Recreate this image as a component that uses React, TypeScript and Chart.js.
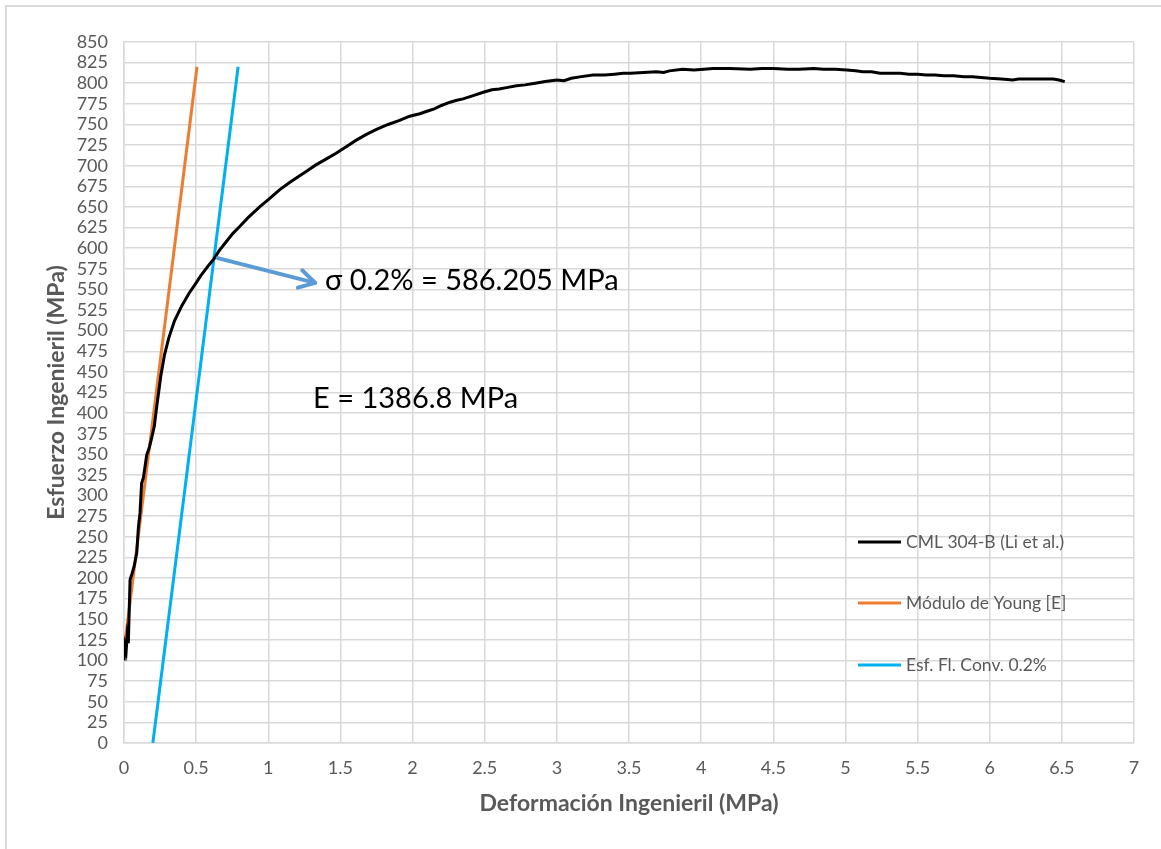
import React, { useEffect, useRef } from "react";
import { Chart, registerables } from "chart.js";

Chart.register(...registerables);

// ---- Data ----
const cmlStrain = [0, 0.008, 0.015, 0.022, 0.03, 0.036, 0.042, 0.055, 0.07, 0.088, 0.1, 0.111, 0.122, 0.135, 0.157, 0.175, 0.192, 0.21, 0.226, 0.24, 0.255, 0.28, 0.31, 0.35, 0.4, 0.45, 0.5, 0.53, 0.56, 0.59, 0.623, 0.66, 0.7, 0.755, 0.8, 0.86, 0.94, 1.0, 1.04, 1.08, 1.15, 1.21, 1.27, 1.33, 1.4, 1.47, 1.54, 1.61, 1.68, 1.75, 1.83, 1.91, 1.98, 2.05, 2.1, 2.15, 2.2, 2.26, 2.3, 2.35, 2.42, 2.49, 2.55, 2.6, 2.66, 2.72, 2.78, 2.85, 2.92, 3.0, 3.05, 3.1, 3.17, 3.25, 3.33, 3.4, 3.46, 3.51, 3.6, 3.69, 3.74, 3.78, 3.87, 3.95, 4.02, 4.08, 4.2, 4.34, 4.42, 4.5, 4.6, 4.68, 4.78, 4.85, 4.93, 5.01, 5.07, 5.12, 5.18, 5.24, 5.31, 5.38, 5.44, 5.5, 5.56, 5.62, 5.68, 5.75, 5.82, 5.88, 5.94, 6.0, 6.08, 6.16, 6.2, 6.24, 6.3, 6.37, 6.44, 6.48, 6.52];
const cmlStress = [100, 118, 112, 130, 121, 160, 198, 205, 214, 230, 262, 279, 315, 322, 349, 358, 370, 384, 407, 425, 445, 470, 491, 512, 530, 545, 558, 566, 573, 580, 587, 597, 606, 618, 626, 637, 650, 659, 665, 671, 680, 687, 694, 701, 708, 715, 723, 731, 738, 744, 750, 755, 760, 763, 766, 769, 773, 777, 779, 781, 785, 789, 792, 793, 795, 797, 798, 800, 802, 804, 803, 806, 808, 810, 810, 811, 812, 812, 813, 814, 813, 815, 817, 816, 817, 818, 818, 817, 818, 818, 817, 817, 818, 817, 817, 816, 815, 814, 814, 812, 812, 812, 811, 811, 810, 810, 809, 809, 808, 808, 807, 806, 805, 804, 805, 805, 805, 805, 805, 804, 802];

const youngStrain = [0, 0.506];
const youngStress = [112, 820];

const offsetStrain = [0.2, 0.791];
const offsetStress = [0, 820];

const seriesNames = ["CML 304-B (Li et al.)", "Módulo de Young [E]", "Esf. Fl. Conv. 0.2%"];
const seriesColors = ["#000000", "#ED7D31", "#00B0F0"];

const arrowFrom = [0.65, 588];
const arrowTo = [1.325, 558];
const labelSigma = "σ 0.2% = 586.205 MPa";
const labelSigmaPos = [1.393, 561];
const labelE = "E = 1386.8 MPa";
const labelEPos = [1.31, 417];

const xTitle = "Deformación Ingenieril (MPa)";
const yTitle = "Esfuerzo Ingenieril (MPa)";

const FONT = "Lato, 'Open Sans', sans-serif";
const GRID = "#d9d9d9";
const TEXT = "#595959";

const toPoints = (xs: number[], ys: number[]) => xs.map((x, i) => ({ x, y: ys[i] }));

const decorPlugin = {
  id: "decor",
  beforeDraw(chart: any) {
    const ctx = chart.ctx;
    ctx.save();
    ctx.strokeStyle = GRID;
    ctx.lineWidth = 2;
    ctx.beginPath();
    ctx.moveTo(6, chart.height);
    ctx.lineTo(6, 6);
    ctx.lineTo(chart.width, 6);
    ctx.stroke();
    ctx.restore();
  },
  afterDraw(chart: any) {
    const ctx = chart.ctx;
    const xs = chart.scales.x;
    const ys = chart.scales.y;
    const ca = chart.chartArea;
    ctx.save();
    // arrow
    const x1 = xs.getPixelForValue(arrowFrom[0]);
    const y1 = ys.getPixelForValue(arrowFrom[1]);
    const x2 = xs.getPixelForValue(arrowTo[0]);
    const y2 = ys.getPixelForValue(arrowTo[1]);
    ctx.strokeStyle = "#5B9BD5";
    ctx.lineWidth = 4;
    ctx.lineCap = "round";
    ctx.lineJoin = "round";
    ctx.beginPath();
    ctx.moveTo(x1, y1);
    ctx.lineTo(x2, y2);
    ctx.stroke();
    const ang = Math.atan2(y2 - y1, x2 - x1);
    const hl = 18;
    ctx.beginPath();
    ctx.moveTo(x2 - hl * Math.cos(ang - 0.52), y2 - hl * Math.sin(ang - 0.52));
    ctx.lineTo(x2, y2);
    ctx.lineTo(x2 - hl * Math.cos(ang + 0.52), y2 - hl * Math.sin(ang + 0.52));
    ctx.stroke();

    // annotations
    ctx.fillStyle = "#000000";
    ctx.textBaseline = "middle";
    ctx.textAlign = "left";
    ctx.font = `29px ${FONT}`;
    ctx.fillText(labelSigma, xs.getPixelForValue(labelSigmaPos[0]), ys.getPixelForValue(labelSigmaPos[1]));
    ctx.fillText(labelE, xs.getPixelForValue(labelEPos[0]), ys.getPixelForValue(labelEPos[1]));

    // legend
    ctx.font = `17.5px ${FONT}`;
    ctx.fillStyle = TEXT;
    const lx = ca.right - 276;
    const offsets = [500, 561, 623];
    seriesNames.forEach((name, i) => {
      const ly = ca.top + offsets[i];
      ctx.strokeStyle = seriesColors[i];
      ctx.lineWidth = 3;
      ctx.lineCap = "butt";
      ctx.beginPath();
      ctx.moveTo(lx, ly);
      ctx.lineTo(lx + 43, ly);
      ctx.stroke();
      ctx.fillText(name, lx + 48, ly);
    });
    ctx.restore();
  },
};

export default function App() {
  const ref = useRef<HTMLCanvasElement | null>(null);
  useEffect(() => {
    if (!ref.current) return;
    const chart = new Chart(ref.current, {
      type: "scatter",
      data: {
        datasets: [
          {
            label: seriesNames[0],
            data: toPoints(cmlStrain, cmlStress),
            borderColor: seriesColors[0],
            borderWidth: 3,
            showLine: true,
            pointRadius: 0,
            tension: 0,
            order: 1,
          },
          {
            label: seriesNames[1],
            data: toPoints(youngStrain, youngStress),
            borderColor: seriesColors[1],
            borderWidth: 3,
            showLine: true,
            pointRadius: 0,
            order: 2,
          },
          {
            label: seriesNames[2],
            data: toPoints(offsetStrain, offsetStress),
            borderColor: seriesColors[2],
            borderWidth: 3,
            showLine: true,
            pointRadius: 0,
            order: 3,
          },
        ],
      },
      options: {
        animation: false,
        responsive: true,
        maintainAspectRatio: false,
        layout: { padding: { top: 42, right: 27, left: 0, bottom: 0 } },
        plugins: { legend: { display: false }, tooltip: { enabled: false } },
        scales: {
          x: {
            type: "linear",
            min: 0,
            max: 7,
            afterFit: (s: any) => { s.height = 106; },
            ticks: {
              stepSize: 0.5,
              autoSkip: false,
              maxRotation: 0,
              color: TEXT,
              padding: 14,
              font: { family: FONT, size: 18 },
              callback: (v: any) => String(Math.round(Number(v) * 10) / 10),
            },
            grid: { color: GRID, lineWidth: 1.5, drawTicks: false },
            border: { color: GRID, width: 1.5 },
            title: { display: true, text: xTitle, color: TEXT, font: { family: FONT, size: 23, weight: "bold" }, padding: { top: 0, bottom: 32 } },
          },
          y: {
            type: "linear",
            min: 0,
            max: 850,
            afterFit: (s: any) => { s.width = 124; },
            ticks: { stepSize: 25, autoSkip: false, color: TEXT, padding: 16, font: { family: FONT, size: 18 } },
            grid: { color: GRID, lineWidth: 1.5, drawTicks: false },
            border: { color: GRID, width: 1.5 },
            title: { display: true, text: yTitle, color: TEXT, font: { family: FONT, size: 23, weight: "bold" }, padding: { top: 43, bottom: 0 } },
          },
        },
      },
      plugins: [decorPlugin],
    } as any);
    return () => chart.destroy();
  }, []);
  return (
    <div style={{ position: "fixed", left: 0, top: 0, width: 1161, height: 849, background: "#fff" }}>
      <canvas ref={ref} />
    </div>
  );
}
